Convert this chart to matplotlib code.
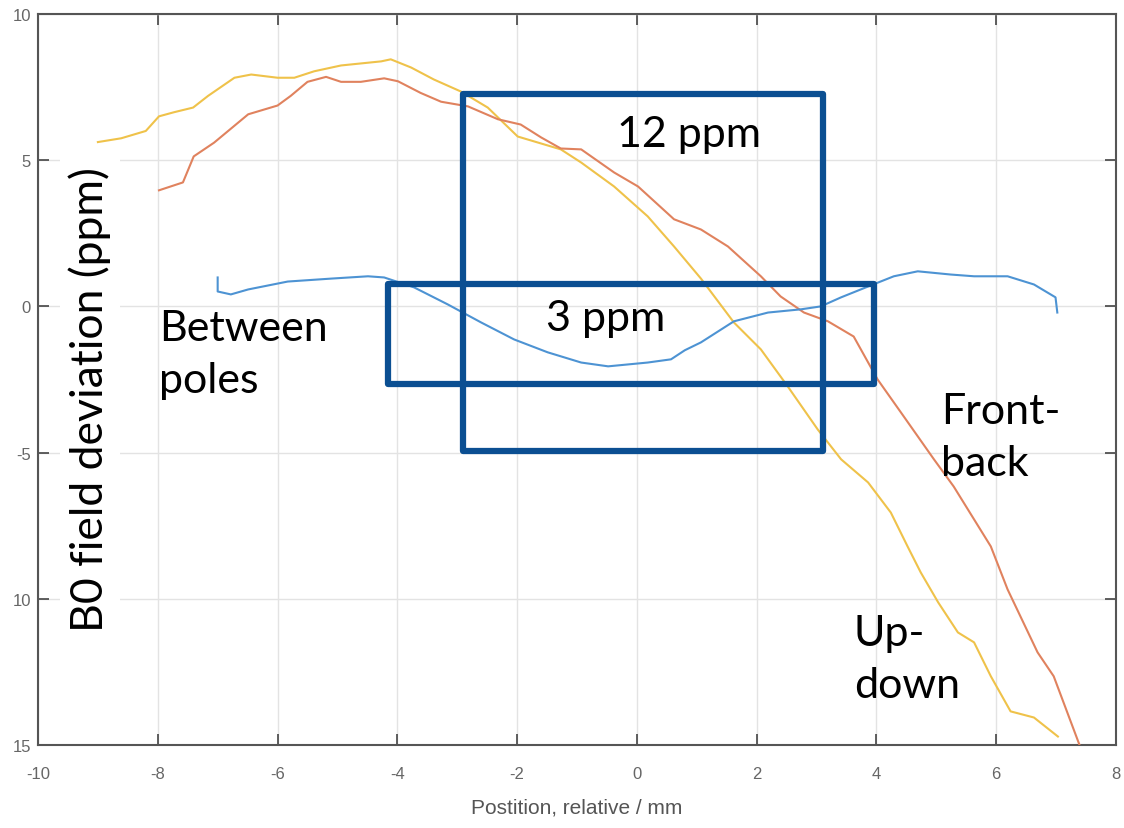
import matplotlib
matplotlib.use("Agg")
import matplotlib.pyplot as plt
from matplotlib.patches import Rectangle

plt.rcParams["axes.unicode_minus"] = False

# ---- data ----
updown_x = [-9.0, -8.61, -8.2, -7.98, -7.73, -7.41, -7.16, -6.72, -6.44, -6.0, -5.72, -5.39, -4.94,
            -4.27, -4.11, -3.77, -3.39, -2.94, -2.49, -1.99, -1.27, -0.93, -0.38, 0.18, 0.62, 1.07,
            1.62, 2.07, 2.52, 3.02, 3.41, 3.86, 4.24, 4.52, 4.74, 5.03, 5.36, 5.63, 5.91, 6.24, 6.63, 7.03]
updown_y = [5.62, 5.75, 6.0, 6.5, 6.64, 6.8, 7.2, 7.82, 7.93, 7.82, 7.82, 8.04, 8.24,
            8.38, 8.45, 8.17, 7.76, 7.35, 6.8, 5.81, 5.37, 4.92, 4.1, 3.08, 2.05, 0.95,
            -0.55, -1.47, -2.74, -4.21, -5.23, -6.02, -7.05, -8.21, -9.1, -10.12, -11.15, -11.49, -12.65, -13.85, -14.06, -14.71]

frontback_x = [-7.98, -7.58, -7.4, -7.06, -6.49, -6.0, -5.78, -5.5, -5.19, -4.94, -4.61, -4.22, -3.99,
               -3.61, -3.27, -2.82, -2.32, -1.94, -1.6, -1.27, -0.93, -0.38, 0.02, 0.62, 1.07, 1.52,
               2.07, 2.4, 2.79, 3.19, 3.62, 4.02, 4.41, 4.96, 5.29, 5.91, 6.19, 6.69, 6.96, 7.4]
frontback_y = [3.97, 4.24, 5.13, 5.6, 6.57, 6.87, 7.2, 7.68, 7.85, 7.68, 7.68, 7.8, 7.7,
               7.3, 7.0, 6.84, 6.4, 6.22, 5.78, 5.4, 5.37, 4.58, 4.1, 2.98, 2.63, 2.05,
               1.03, 0.34, -0.21, -0.51, -1.03, -2.5, -3.63, -5.23, -6.16, -8.21, -9.68, -11.83, -12.65, -15.05]

between_x = [-7.0, -7.0, -6.78, -6.49, -5.83, -5.11, -4.49, -4.22, -3.72, -3.16, -2.6, -2.05, -1.49,
             -0.93, -0.48, 0.18, 0.57, 0.8, 1.07, 1.62, 2.19, 2.74, 3.07, 3.41, 3.86, 4.29, 4.69,
             5.24, 5.63, 6.19, 6.63, 6.99, 7.02]
between_y = [0.99, 0.51, 0.41, 0.58, 0.85, 0.95, 1.03, 0.99, 0.65, 0.07, -0.55, -1.13, -1.57,
             -1.92, -2.05, -1.92, -1.81, -1.5, -1.23, -0.51, -0.21, -0.10, 0.0, 0.31, 0.68, 1.03, 1.2,
             1.09, 1.03, 1.03, 0.75, 0.31, -0.21]

xticks = [-10, -8, -6, -4, -2, 0, 2, 4, 6, 8]
yticks = [-15, -10, -5, 0, 5, 10]
ytick_labels = ["15", "10", "-5", "0", "5", "10"]

# annotation boxes: (x0, x1, y0, y1)
box_12 = (-2.9, 3.1, -4.96, 7.28)
box_3 = (-4.16, 3.96, -2.67, 0.75)

labels = ["Between\npoles", "Front-\nback", "Up-\ndown", "12 ppm", "3 ppm"]
label_x = [-7.98, 5.08, 3.62, 0.87, -0.52]
label_y = [-1.64, -4.48, -12.07, 5.88, -0.38]
label_ha = ["left", "left", "left", "center", "center"]

# ---- figure ----
fig = plt.figure(figsize=(11.24, 8.29), dpi=100)
ax = fig.add_axes([38/1124, 1-746/829, (1116-38)/1124, (746-15)/829])

ax.plot(updown_x, updown_y, color="#efc24a", lw=1.5, zorder=3)
ax.plot(frontback_x, frontback_y, color="#e0825e", lw=1.5, zorder=3)
ax.plot(between_x, between_y, color="#4d93d3", lw=1.5, zorder=3)

ax.set_xlim(-10, 8)
ax.set_ylim(-15, 10)
ax.set_xticks(xticks)
ax.set_yticks(yticks)
ax.set_yticklabels(ytick_labels)
ax.grid(True, color="#e3e3e3", lw=1.0)
ax.set_axisbelow(True)
ax.tick_params(direction="in", length=8, width=1.2, colors="#444444",
               labelcolor="#666666", labelsize=12, top=True, right=True)
ax.tick_params(axis="x", pad=15)
ax.tick_params(axis="y", pad=5)
tick_family = ["Liberation Sans Narrow", "Liberation Sans", "DejaVu Sans"]
for lab in ax.get_xticklabels() + ax.get_yticklabels():
    lab.set_family(tick_family)
for s in ax.spines.values():
    s.set_color("#555555")
    s.set_linewidth(1.5)

ax.set_xlabel("Postition, relative / mm", fontsize=15, color="#555555",
              family=tick_family, labelpad=12)

for (x0, x1, y0, y1) in (box_12, box_3):
    ax.add_patch(Rectangle((x0, y0), x1 - x0, y1 - y0, fill=False,
                           edgecolor="#0b4f92", lw=4.5, zorder=5, joinstyle="round"))

for t, x, y, ha in zip(labels, label_x, label_y, label_ha):
    ax.text(x, y, t, ha=ha, va="center", fontsize=31, family=["Lato", "DejaVu Sans"],
            color="black", linespacing=1.45, zorder=6)

fig.text(90/1124, 1-400/829, "B0 field deviation (ppm)", rotation=90, ha="center", va="center",
         fontsize=32, family=["Lato", "DejaVu Sans"], color="black",
         bbox=dict(facecolor="white", edgecolor="none", pad=6))

fig.savefig("out.png", dpi=100)
